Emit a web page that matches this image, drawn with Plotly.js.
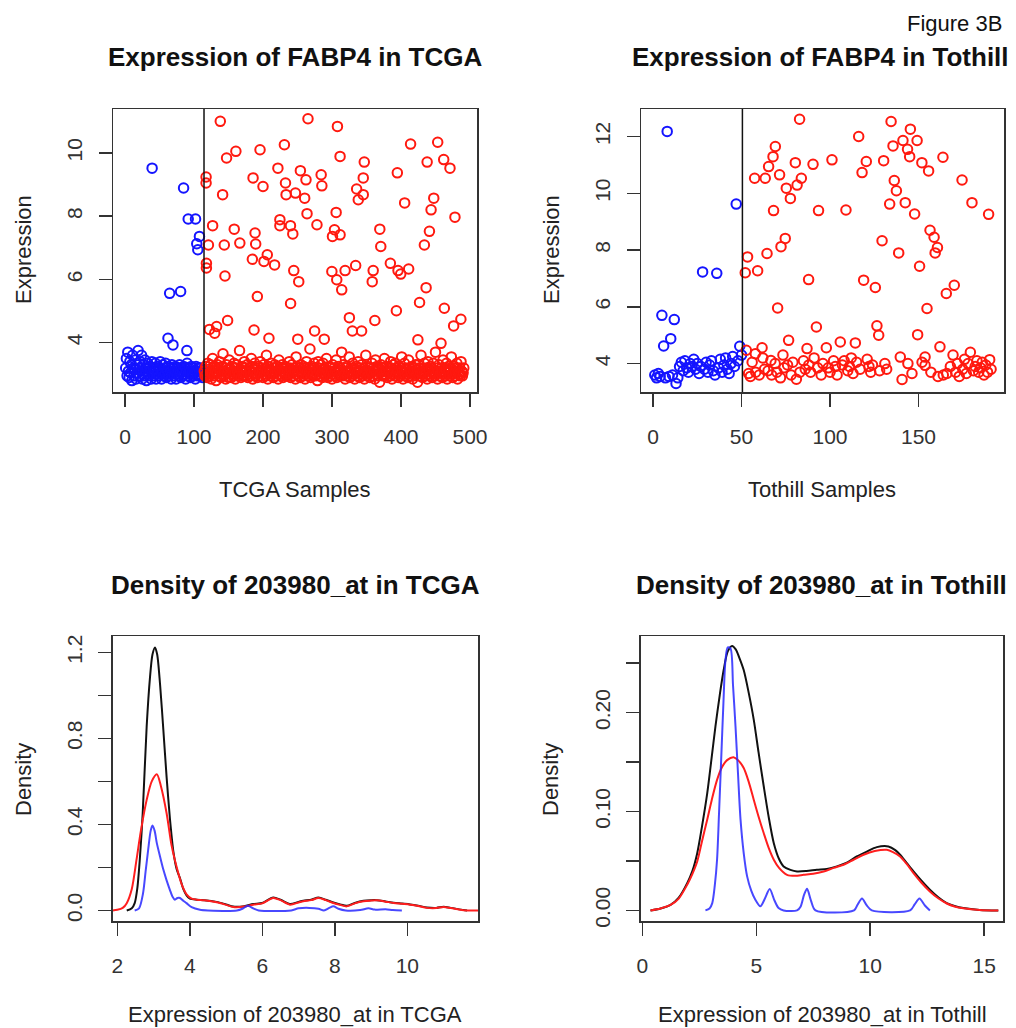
<!DOCTYPE html>
<html><head><meta charset="utf-8">
<script src="https://cdn.plot.ly/plotly-3.0.1.min.js"></script>
<style>html,body{margin:0;padding:0;background:#fff;} #chart{width:1016px;height:1028px;}</style>
</head><body><div id="chart"></div>
<script>
// ---------- TCGA scatter ----------
const tcgaCut = 114.5;
const tcgaBlueHighX = [39.3,62.3,64.7,69.5,80.6,84.9,89.7,91.6,102.2,104,105.5,107.9];
const tcgaBlueHighY = [9.52,4.14,5.56,3.93,5.62,8.89,3.75,7.91,7.91,7.13,6.94,7.36];
const tcgaBlueBandY = [
3.2,3.5,2.95,3.7,3.1,2.9,3.4,3.05,3.3,2.8,3.6,3.2,2.95,3.15,3.45,2.85,3.3,3.05,3.75,3.2,
2.95,3.4,3.1,3.6,2.85,3.0,3.3,2.95,3.45,3.1,2.8,3.2,3.35,3.0,2.95,3.25,3.1,2.85,3.4,3.05,
3.2,2.95,3.1,3.35,2.85,3.0,3.25,3.1,2.95,3.2,3.4,3.05,2.85,3.1,3.3,2.95,3.2,3.0,3.35,2.9,
3.1,3.0,3.25,2.95,3.2,3.1,2.85,3.3,3.05,3.2,2.95,3.1,3.25,2.85,3.0,3.2,3.1,2.95,3.3,3.05,
2.9,3.2,3.1,2.95,3.25,3.0,3.2,2.85,3.1,3.35,2.95,3.05,3.2,3.1,2.9,3.25,3.0,2.95,3.2,3.1,
3.05,2.85,3.25,3.1,2.95,3.2,3.0,3.1,2.95,3.2,3.05,2.9,3.15,3.0];
const tcgaRedHighX = [117.5,117.5,118,118,120.9,122.3,127,130,132.8,138.1,141.5,143.9,144.9,147.2,148.7,158.3,160.7,166.4,
184.6,185.6,187,188.5,189.4,191.8,195.7,200,201.4,206.2,208.6,216.8,221.6,224.5,224.5,231,232.6,233.5,239.8,243.2,240,
244.6,247,250.4,251.8,254.2,260.4,262.3,263.8,265.2,274.8,278.2,284.3,285.3,288.8,299.8,300.7,303.6,306,306.9,307.9,
311.7,311.7,314.1,319,325.2,329.5,334.3,335.7,338.1,342.9,345.3,345.3,346.8,358.3,359.7,362.1,369.3,370.7,384.6,393.3,
394.7,395.7,399.6,405.3,411.1,413.9,424.5,426.9,433.9,436.4,437.9,441.2,443.6,447.5,453.2,458,461.9,462.8,471,476.3,
478.2,486.8];
const tcgaRedHighY = [9.24,9.05,6.51,6.36,7.09,4.42,7.70,4.30,4.51,11.0,8.68,7.09,6.11,9.84,4.70,7.59,10.05,7.15,
6.64,9.21,4.40,7.47,7.12,5.46,10.1,8.94,6.57,6.78,4.14,6.46,9.52,7.89,7.70,10.26,9.05,8.68,7.70,7.44,5.24,
6.28,8.73,4.11,5.93,9.44,8.57,9.15,8.08,11.08,4.37,7.73,9.31,8.96,4.11,6.25,7.36,7.57,8.12,5.99,10.84,
9.89,7.41,5.67,6.28,4.79,4.37,6.44,8.86,8.52,4.37,9.21,8.68,9.71,5.93,6.28,4.70,7.59,7.04,6.51,5.01,
9.37,6.28,6.17,8.42,6.33,10.28,4.09,5.27,7.09,5.74,9.71,7.52,8.20,8.57,10.34,3.98,9.79,5.09,9.52,4.53,
7.97,4.74];
const tcgaRedBandY = [
3.1,2.95,3.25,3.0,2.9,3.35,3.15,2.95,3.05,3.3,2.85,3.0,3.5,3.2,2.95,3.25,3.1,2.8,3.05,3.3,
3.2,2.95,3.4,3.1,2.9,3.0,3.25,3.65,2.95,3.1,3.2,2.85,3.3,3.05,3.15,2.9,3.45,3.2,3.0,2.9,
3.25,3.1,2.95,3.35,3.05,2.85,3.2,3.3,3.1,2.95,3.0,3.75,3.15,2.9,3.1,3.25,2.95,3.05,3.4,3.2,
2.95,3.1,3.3,2.9,3.0,3.2,3.1,2.95,3.5,3.25,2.85,3.05,3.15,3.35,2.95,3.2,3.0,2.9,3.25,3.1,
3.05,3.4,2.95,3.2,3.1,2.9,3.3,3.0,3.2,2.95,3.6,3.1,2.85,3.25,3.05,3.15,2.95,3.35,3.1,3.0,
2.9,3.2,3.3,3.05,2.95,3.1,3.25,2.85,3.45,3.15,3.0,2.95,3.2,3.3,2.9,3.1,3.05,3.25,2.95,3.2,
3.1,2.95,3.0,3.4,3.2,2.9,3.15,3.3,3.05,2.95,3.2,3.1,2.85,3.55,3.0,3.25,2.95,3.1,3.2,2.9,
3.3,3.05,3.1,2.95,3.25,3.2,2.85,3.0,3.4,3.1,2.95,3.2,3.05,3.8,2.9,3.15,3.25,2.95,3.0,3.35,
3.2,2.95,3.1,3.0,2.8,3.4,3.2,3.1,2.95,3.3,3.05,2.9,3.35,3.15,3.2,2.95,3.0,3.5,3.1,2.9,
3.05,3.25,2.95,3.2,3.1,2.85,3.3,3.0,3.2,2.95,3.1,3.45,2.9,3.05,3.25,3.15,2.95,3.2,3.0,3.7,
2.95,3.1,3.3,3.0,2.85,3.2,3.25,2.95,3.1,3.05,3.55,2.9,3.2,3.1,2.95,3.35,3.0,3.2,2.85,3.15,
3.25,3.05,2.95,3.4,3.1,2.9,3.2,3.0,3.3,2.95,3.1,3.2,2.85,3.05,3.6,3.1,2.95,3.25,3.0,3.2,
2.9,3.1,3.05,3.35,2.95,3.2,3.1,2.85,3.45,3.0,3.25,2.95,3.15,3.2,2.75,3.05,3.3,3.1,2.95,3.2,
3.0,3.5,2.95,3.1,3.25,2.9,3.2,3.05,3.1,2.95,3.4,3.2,2.85,3.0,3.3,3.15,2.95,3.35,3.05,3.2,
3.1,2.9,3.25,3.0,2.95,3.2,3.55,3.1,2.85,3.05,3.35,2.95,3.2,3.15,3.0,2.9,3.45,3.2,2.95,3.1,
3.05,3.25,2.85,3.1,3.2,2.95,3.3,3.0,3.15,2.75,3.3,3.2,2.95,3.05,3.6,3.1,2.9,3.2,3.0,3.35,
2.95,3.1,3.2,2.85,3.4,3.0,3.15,2.95,3.25,3.2,2.9,3.05,3.35,3.1,2.95,3.7,3.0,3.2,2.85,3.1,
3.3,2.95,3.05,3.2,3.1,2.9,3.45,3.0,3.2,2.95,3.15,3.35,2.85,3.05,3.25,3.1,2.95,3.2,3.55,3.0,
2.9,3.1,3.25,2.95,3.05,3.2,3.35,2.85,3.1,3.0,3.2,2.95,3.4,3.1,2.95,3.05,3.2];

// ---------- Tothill scatter ----------
const tothillCut = 50.5;
const tothillBlueY = [3.6,3.5,3.65,3.55,5.70,4.62,3.5,12.18,3.55,4.88,3.6,5.55,3.3,3.5,3.9,4.05,3.75,4.1,3.85,3.7,
4.0,3.9,4.15,3.8,4.0,3.65,3.9,7.23,3.8,4.05,3.7,3.95,4.1,3.75,3.6,7.18,3.85,4.15,3.7,3.95,
4.2,3.8,3.65,4.0,4.25,3.9,9.62,4.1,4.61,4.3];
const tothillRedX = [52.1,52.7,53.4,57.4,57.8,59.1,61.6,63.4,64.4,65.3,66.6,67.8,68.1,69.1,70.4,71.5,72.3,73.4,74.7,75.3,
76.6,77.6,80.4,81.4,82.8,83.8,87.0,87.9,90.4,92.3,93.5,97.9,101.1,105.8,109.0,114.3,116.2,118.1,119,120.5,
125.6,126.5,127.5,129.4,130.3,133.7,134.5,135.6,136.3,137.5,138.8,139.7,141.2,142.5,143.8,145.0,145.4,147.8,149.2,149.5,
150.6,151.9,153.7,155.7,154.8,156.5,158.8,159.4,160.7,162.1,163.8,165.7,169.5,170.2,174.6,179.3,180.2,189.6,190.2,
54,55,56,58,60,62,63,65,67,69,70,72,74,76,78,79,81,83,85,86,88,89,91,93,95,96,99,100,102,103,104,107,108,110,111,112,
113,115,117,121,122,123,124,128,131,132,140.7,144,146.3,152,153.7,157,161,164,166,168,171,172,173,175,176,177,178,
181,182,183,184,185,186,187,188,189,191];
const tothillRedY = [7.20,4.47,7.76,10.53,4.35,7.27,4.56,10.53,7.88,10.94,4.11,11.29,9.39,11.65,5.96,10.65,8.12,4.30,8.41,10.18,
4.82,9.82,11.08,10.29,12.61,10.53,4.53,6.96,11.02,5.29,9.39,4.56,11.18,4.76,9.41,4.73,12.0,10.73,6.94,11.12,
6.68,5.33,5.0,8.33,11.15,9.62,12.53,11.67,10.45,10.09,7.90,4.23,11.86,9.67,11.55,11.29,12.26,9.27,11.86,5.02,
7.43,11.08,4.23,10.79,5.94,8.70,8.45,7.90,8.09,4.59,11.27,6.47,4.3,6.76,10.47,4.4,9.67,9.26,4.14,
3.65,3.55,4.05,3.7,3.6,4.2,3.8,3.75,3.6,4.0,3.7,3.5,3.85,3.95,3.6,4.05,3.45,3.7,4.1,3.8,3.95,3.7,4.2,3.85,3.6,4.0,3.85,3.7,4.1,3.9,3.6,3.95,4.1,3.75,3.9,4.2,
3.65,4.05,3.8,4.15,3.9,3.7,3.95,3.75,4.0,3.8,3.44,4.0,3.65,4.05,3.94,3.7,3.55,3.6,3.65,3.9,3.7,4.0,3.55,3.8,4.15,3.65,4.0,
3.75,3.9,4.1,3.7,3.85,4.05,3.6,3.95,3.7,3.8];

// ---------- TCGA densities ----------
const tcgaAllX = [2.26,2.40,2.48,2.55,2.62,2.70,2.81,2.90,2.97,3.04,3.10,3.18,3.27,3.36,3.45,3.55,3.64,3.73,3.82,3.91,4.0,4.19,4.4,4.74,5.0,5.2,5.5,5.75,6.0,6.3,6.5,6.76,7.0,7.13,7.35,7.55,7.75,7.96,8.15,8.33,8.55,8.79,9.0,9.16,9.4,9.62,9.85,10.08,10.3,10.54,10.8,11.0,11.2,11.55,11.65];
const tcgaAllY = [0.0,0.01,0.034,0.10,0.236,0.45,0.855,1.08,1.19,1.223,1.19,1.05,0.84,0.62,0.43,0.27,0.19,0.15,0.10,0.07,0.055,0.05,0.048,0.04,0.028,0.018,0.02,0.03,0.035,0.06,0.05,0.03,0.04,0.045,0.05,0.06,0.05,0.037,0.028,0.022,0.035,0.045,0.048,0.048,0.042,0.036,0.032,0.028,0.022,0.014,0.012,0.017,0.012,0.002,0.0];
const tcgaRedX = [1.87,2.0,2.15,2.26,2.4,2.53,2.65,2.81,2.95,3.09,3.2,3.36,3.5,3.64,3.78,3.91,4.05,4.19,4.4,4.74,5.0,5.2,5.5,5.75,6.0,6.3,6.5,6.76,7.0,7.13,7.35,7.55,7.75,7.96,8.15,8.33,8.55,8.79,9.0,9.16,9.4,9.62,9.85,10.08,10.3,10.54,10.8,11.0,11.2,11.55,11.95];
const tcgaRedY = [0.0,0.003,0.012,0.034,0.1,0.236,0.37,0.514,0.6,0.633,0.58,0.452,0.3,0.2,0.12,0.075,0.055,0.05,0.047,0.038,0.026,0.016,0.018,0.027,0.033,0.058,0.048,0.027,0.037,0.043,0.048,0.058,0.048,0.035,0.026,0.019,0.033,0.043,0.046,0.047,0.041,0.035,0.031,0.027,0.021,0.012,0.011,0.016,0.011,0.001,0.0];
const tcgaBlueX = [2.48,2.6,2.71,2.78,2.85,2.92,2.97,3.03,3.09,3.18,3.27,3.36,3.45,3.52,3.59,3.66,3.73,3.82,3.91,4.05,4.28,4.5,5.3,5.45,5.6,5.75,5.9,6.8,7.0,7.3,7.55,7.7,7.85,7.96,8.1,8.3,8.7,8.93,9.1,9.4,9.6,9.85];
const tcgaBlueY = [0.0,0.01,0.08,0.18,0.28,0.37,0.395,0.37,0.313,0.25,0.19,0.14,0.096,0.065,0.05,0.058,0.058,0.045,0.034,0.015,0.003,0.0,0.0,0.008,0.022,0.01,0.0,0.0,0.01,0.012,0.008,0.0,0.012,0.019,0.008,0.0,0.002,0.01,0.004,0.006,0.002,0.0];

// ---------- Tothill densities ----------
const tothAllX = [0.36,0.8,1.24,1.6,1.97,2.2,2.41,2.62,2.85,3.03,3.21,3.4,3.57,3.75,3.94,4.1,4.25,4.45,4.67,4.89,5.1,5.33,5.55,5.77,6.0,6.2,6.5,6.79,7.2,7.66,8.1,8.54,9.0,9.41,9.85,10.29,10.8,11.1,11.31,11.6,11.9,12.25,12.62,13.0,13.36,13.7,14.09,14.8,15.62];
const tothAllY = [0,0.002,0.0057,0.013,0.0276,0.04,0.0579,0.085,0.1186,0.152,0.186,0.218,0.2431,0.262,0.2674,0.264,0.256,0.2431,0.22,0.193,0.16,0.1253,0.094,0.068,0.052,0.0445,0.041,0.0394,0.0398,0.0411,0.042,0.0445,0.0485,0.0546,0.0595,0.064,0.0647,0.061,0.0563,0.048,0.0394,0.03,0.0209,0.013,0.0074,0.0045,0.0024,0.0005,0];
const tothRedX = [0.36,0.8,1.24,1.6,1.97,2.2,2.41,2.62,2.85,3.05,3.28,3.5,3.72,4.0,4.2,4.45,4.67,4.89,5.1,5.33,5.55,5.77,6.0,6.35,6.7,7.08,7.5,7.96,8.4,8.83,9.25,9.71,10.2,10.73,11.0,11.31,11.6,11.9,12.25,12.62,13.0,13.36,13.7,14.09,14.8,15.62];
const tothRedY = [0,0.002,0.0055,0.012,0.026,0.037,0.0495,0.07,0.092,0.112,0.132,0.145,0.152,0.155,0.152,0.144,0.13,0.112,0.095,0.078,0.063,0.0513,0.043,0.036,0.035,0.036,0.037,0.0394,0.043,0.0462,0.051,0.0563,0.06,0.0613,0.059,0.0546,0.047,0.0377,0.028,0.0192,0.012,0.007,0.004,0.0022,0.0005,0];
const tothBlueX = [2.77,2.95,3.07,3.18,3.28,3.37,3.46,3.56,3.65,3.75,3.87,3.98,4.09,4.2,4.31,4.45,4.6,4.78,4.96,5.18,5.38,5.59,5.8,5.98,6.2,6.79,6.95,7.1,7.23,7.4,7.6,9.29,9.45,9.64,9.85,10.07,11.75,11.95,12.16,12.4,12.62];
const tothBlueY = [0,0.002,0.0074,0.025,0.0513,0.1,0.152,0.21,0.2532,0.266,0.265,0.228,0.186,0.138,0.092,0.058,0.0344,0.02,0.0108,0.0041,0.012,0.0216,0.01,0.0024,0,0,0.004,0.016,0.0219,0.01,0,0,0.006,0.0121,0.005,0,0,0.006,0.0121,0.005,0];

// ---------- helpers ----------
const FONT = 'Liberation Sans, Arial, Helvetica, sans-serif';
const BLUE = 'rgb(20,20,255)', RED = 'rgb(255,25,15)';
const idx = (arr, start) => arr.map((_, i) => start + i);

function pts(x, y, color, xa, ya) {
  return {type:'scatter', mode:'markers', x:x, y:y, xaxis:xa, yaxis:ya, showlegend:false, hoverinfo:'skip',
    marker:{symbol:'circle-open', size:9.5, color:color, line:{width:2, color:color}}};
}
function ln(x, y, color, xa, ya) {
  return {type:'scatter', mode:'lines', x:x, y:y, xaxis:xa, yaxis:ya, showlegend:false, hoverinfo:'skip',
    line:{color:color, width:2, shape:'spline', smoothing:0.8}};
}

const data = [
  pts(idx(tcgaBlueBandY,1), tcgaBlueBandY, BLUE, 'x', 'y'),
  pts(tcgaBlueHighX, tcgaBlueHighY, BLUE, 'x', 'y'),
  pts(idx(tcgaRedBandY,115), tcgaRedBandY, RED, 'x', 'y'),
  pts(tcgaRedHighX, tcgaRedHighY, RED, 'x', 'y'),
  pts(idx(tothillBlueY,1), tothillBlueY, BLUE, 'x2', 'y2'),
  pts(tothillRedX, tothillRedY, RED, 'x2', 'y2'),
  ln(tcgaAllX, tcgaAllY, '#111', 'x3', 'y3'),
  ln(tcgaRedX, tcgaRedY, 'rgb(255,30,30)', 'x3', 'y3'),
  ln(tcgaBlueX, tcgaBlueY, 'rgba(40,40,255,0.85)', 'x3', 'y3'),
  ln(tothAllX, tothAllY, '#111', 'x4', 'y4'),
  ln(tothRedX, tothRedY, 'rgb(255,30,30)', 'x4', 'y4'),
  ln(tothBlueX, tothBlueY, 'rgba(40,40,255,0.85)', 'x4', 'y4')
];

function axis(domain, range, tickvals, ticktext, anchor, isY) {
  const a = {domain:domain, range:range, anchor:anchor, tickmode:'array', tickvals:tickvals,
    ticktext: ticktext || tickvals.map(String), showgrid:false, zeroline:false,
    showline:true, mirror:true, linecolor:'#333', linewidth:1.5,
    ticks:'outside', ticklen:13, tickwidth:1.5, tickcolor:'#333',
    tickfont:{family:FONT, size:21, color:'#333'}, automargin:false, fixedrange:true};
  if (isY) { a.tickangle = -90; a.ticklabelstandoff = 8; }
  else { a.ticklabelstandoff = 12; }
  return a;
}
const W = 1016, H = 1028;
const dx = (a,b) => [a/W, b/W];
const dy = (top,bot) => [1-bot/H, 1-top/H];

const layout = {
  width:W, height:H, margin:{l:0,r:0,t:0,b:0}, paper_bgcolor:'#fff', plot_bgcolor:'#fff',
  xaxis: axis(dx(113,477.3), [-17.4,510.6], [0,100,200,300,400,500], null, 'y', false),
  yaxis: axis(dy(109,392), [2.44,11.39], [4,6,8,10], null, 'x', true),
  xaxis2: axis(dx(641,1004), [-6.8,198.3], [0,50,100,150], null, 'y2', false),
  yaxis2: axis(dy(109,392), [3.0,12.97], [4,6,8,10,12], null, 'x2', true),
  xaxis3: axis(dx(112.7,478), [1.873,11.95], [2,4,6,8,10], null, 'y3', false),
  yaxis3: axis(dy(636,921), [-0.049,1.276], [0,0.2,0.4,0.6,0.8,1.0,1.2], ['0.0','','0.4','','0.8','','1.2'], 'x3', true),
  xaxis4: axis(dx(640.7,1003.3), [-0.07,15.84], [0,5,10,15], null, 'y4', false),
  yaxis4: axis(dy(636,921), [-0.0107,0.2775], [0,0.05,0.1,0.15,0.2,0.25], ['0.00','','0.10','','0.20',''], 'x4', true),
  shapes: [
    {type:'line', xref:'x', yref:'y domain', x0:tcgaCut, x1:tcgaCut, y0:0, y1:1, line:{color:'#111', width:1.5}},
    {type:'line', xref:'x2', yref:'y2 domain', x0:tothillCut, x1:tothillCut, y0:0, y1:1, line:{color:'#111', width:1.5}}
  ],
  annotations: []
};
function ann(text, px, py, opts) {
  return Object.assign({text:text, xref:'paper', yref:'paper', x:px/W, y:1-py/H, showarrow:false,
    xanchor:'center', yanchor:'middle', font:{family:FONT, size:22, color:'#222'}}, opts||{});
}
const titleFont = {family:FONT, size:26, color:'#111'};
layout.annotations.push(
  ann('Figure 3B', 1004, 23, {xanchor:'right', font:{family:FONT, size:22, color:'#111'}}),
  ann('<b>Expression of FABP4 in TCGA</b>', 295, 57, {font:titleFont}),
  ann('<b>Expression of FABP4 in Tothill</b>', 820, 57, {font:titleFont}),
  ann('<b>Density of 203980_at in TCGA</b>', 295, 585, {font:titleFont}),
  ann('<b>Density of 203980_at in Tothill</b>', 821, 585, {font:titleFont}),
  ann('TCGA Samples', 295, 489),
  ann('Tothill Samples', 822, 489),
  ann('Expression of 203980_at in TCGA', 295, 1014),
  ann('Expression of 203980_at in Tothill', 822, 1014),
  ann('Expression', 23, 250, {textangle:-90}),
  ann('Expression', 551, 250, {textangle:-90}),
  ann('Density', 23, 780, {textangle:-90}),
  ann('Density', 550, 780, {textangle:-90})
);

Plotly.newPlot('chart', data, layout, {displayModeBar:false, staticPlot:true});
</script></body></html>
